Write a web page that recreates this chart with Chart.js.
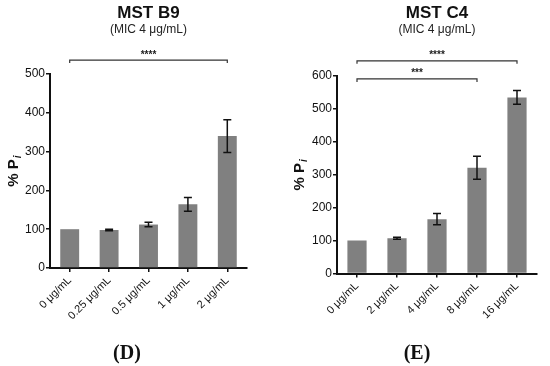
<!DOCTYPE html>
<html>
<head>
<meta charset="utf-8">
<script src="https://cdn.jsdelivr.net/npm/chart.js@4.4.1/dist/chart.umd.min.js"></script>
<style>
  html, body { margin: 0; padding: 0; background: #fff; }
  #wrap { position: relative; width: 550px; height: 366px; overflow: hidden; }
  .panel { position: absolute; top: 0; width: 275px; height: 366px; }
  .tag { position: absolute; font: bold 20px "Liberation Serif", "DejaVu Serif", serif; color: #111;
         transform: translate(-50%, -50%); }
</style>
</head>
<body>
<div id="wrap">
  <div class="panel" style="left:0"><canvas id="chartD"></canvas></div>
  <div class="panel" style="left:275px"><canvas id="chartE"></canvas></div>
  <div class="tag" style="left:127px; top:352px">(D)</div>
  <div class="tag" style="left:417px; top:352px">(E)</div>
</div>
<script>
// panel D - MST B9
const categoriesD = ['0 μg/mL', '0.25 μg/mL', '0.5 μg/mL', '1 μg/mL', '2 μg/mL'];
const valuesD = [100, 98, 112, 164, 340];
const errorsD = [0, 2, 6, 18, 42];
const sigD = [{ from: 0, to: 4, level: 536, label: '****' }];

// panel E - MST C4
const categoriesE = ['0 μg/mL', '2 μg/mL', '4 μg/mL', '8 μg/mL', '16 μg/mL'];
const valuesE = [100, 107, 165, 321, 535];
const errorsE = [0, 3, 17, 35, 21];
const sigE = [
    { from: 0, to: 4, level: 646, label: '****' },
    { from: 0, to: 3, level: 591, label: '***' }
];

const FONT = '"Liberation Sans", Arial, Helvetica, sans-serif';

// error bars + significance brackets + y title with subscript
const extrasPlugin = {
    id: 'extras',
    afterDatasetsDraw(chart, args, opts) {
        const ctx = chart.ctx;
        const x = chart.scales.x;
        const y = chart.scales.y;
        const meta = chart.getDatasetMeta(0);

        ctx.save();
        ctx.strokeStyle = '#111';
        ctx.lineWidth = 1.5;
        opts.errors.forEach((e, i) => {
            if (!e) return;
            const cx = meta.data[i].x;
            const v = opts.values[i];
            const top = y.getPixelForValue(v + e);
            const bot = y.getPixelForValue(v - e);
            ctx.beginPath();
            ctx.moveTo(cx, top); ctx.lineTo(cx, bot);
            ctx.moveTo(cx - 4, top); ctx.lineTo(cx + 4, top);
            ctx.moveTo(cx - 4, bot); ctx.lineTo(cx + 4, bot);
            ctx.stroke();
        });

        ctx.lineWidth = 1.2;
        ctx.strokeStyle = '#333';
        ctx.fillStyle = '#222';
        ctx.font = 'bold 10px ' + FONT;
        ctx.textAlign = 'center';
        ctx.textBaseline = 'alphabetic';
        opts.brackets.forEach(b => {
            const x1 = x.getPixelForValue(b.from);
            const x2 = x.getPixelForValue(b.to);
            const ly = y.getPixelForValue(b.level);
            ctx.beginPath();
            ctx.moveTo(x1, ly + 3); ctx.lineTo(x1, ly);
            ctx.lineTo(x2, ly); ctx.lineTo(x2, ly + 3);
            ctx.stroke();
            ctx.fillText(b.label, (x1 + x2) / 2, ly - 2.5);
        });

        // y axis title "% P" with italic subscript i
        const area = chart.chartArea;
        ctx.translate(area.left - opts.titleOffset, (area.top + area.bottom) / 2);
        ctx.rotate(-Math.PI / 2);
        ctx.fillStyle = '#111';
        ctx.textAlign = 'left';
        ctx.textBaseline = 'middle';
        const main = '% P';
        ctx.font = 'bold 15px ' + FONT;
        const w1 = ctx.measureText(main).width;
        ctx.font = 'italic bold 10px ' + FONT;
        const w2 = ctx.measureText('i').width;
        const start = -(w1 + w2 + 1) / 2;
        ctx.font = 'bold 15px ' + FONT;
        ctx.fillText(main, start, 0);
        ctx.font = 'italic bold 10px ' + FONT;
        ctx.fillText('i', start + w1 + 1, 4);
        ctx.restore();
    }
};

function makeChart(id, title, labels, values, errors, brackets, yMax, yWidth, xHeight, topGap, rightPad, titleOffset) {
    return new Chart(document.getElementById(id), {
        type: 'bar',
        data: {
            labels: labels,
            datasets: [{
                data: values,
                backgroundColor: '#808080',
                borderWidth: 0,
                barPercentage: 0.48,
                categoryPercentage: 1.0
            }]
        },
        options: {
            responsive: true,
            maintainAspectRatio: false,
            animation: false,
            layout: { padding: { left: 0, right: rightPad, top: 0, bottom: 0 } },
            plugins: {
                legend: { display: false },
                tooltip: { enabled: false },
                title: {
                    display: true,
                    text: title,
                    fullSize: false,
                    color: '#111',
                    font: { family: FONT, size: 17, weight: 'bold', lineHeight: 1.1 },
                    padding: { top: 4, bottom: 0 }
                },
                subtitle: {
                    display: true,
                    text: '(MIC 4 μg/mL)',
                    fullSize: false,
                    color: '#222',
                    font: { family: FONT, size: 12, lineHeight: 1.2 },
                    padding: { top: 0, bottom: topGap - 37.1 }
                },
                extras: { values: values, errors: errors, brackets: brackets, titleOffset: titleOffset }
            },
            scales: {
                x: {
                    offset: true,
                    grid: { display: true, drawOnChartArea: false, drawTicks: true, tickLength: 4,
                            offset: false, color: '#111', lineWidth: 1.5 },
                    border: { display: true, color: '#111', width: 2 },
                    ticks: { minRotation: 45, maxRotation: 45, color: '#111', padding: 2,
                             font: { family: FONT, size: 11 } },
                    afterFit: s => { s.height = xHeight; }
                },
                y: {
                    min: 0,
                    max: yMax,
                    grid: { display: true, drawOnChartArea: false, drawTicks: true, tickLength: 4,
                            color: '#111', lineWidth: 1.5 },
                    border: { display: true, color: '#111', width: 2 },
                    ticks: { stepSize: 100, color: '#111', padding: 1,
                             font: { family: FONT, size: 12 } },
                    afterFit: s => { s.width = yWidth; }
                }
            }
        },
        plugins: [extrasPlugin]
    });
}

makeChart('chartD', 'MST B9', categoriesD, valuesD, errorsD, sigD, 500, 50, 98, 74, 28, 36);
makeChart('chartE', 'MST C4', categoriesE, valuesE, errorsE, sigE, 600, 62, 92.5, 76, 13, 37);
</script>
</body>
</html>
